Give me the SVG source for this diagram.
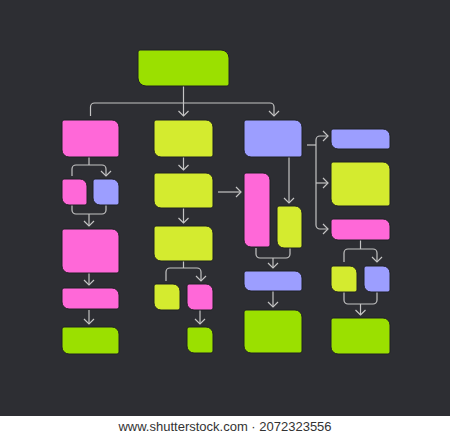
<svg xmlns="http://www.w3.org/2000/svg" width="450" height="436" viewBox="0 0 450 436">
<style>
.n{stroke:#1f2024;stroke-width:1}
.lime{fill:#9be000}
.yel{fill:#d4eb2f}
.pink{fill:#ff68d8}
.blue{fill:#9c9eff}
.c{fill:none;stroke:#c4c4c4;stroke-width:1.2}
.a{marker-end:url(#ah)}
.foot{font-family:"Liberation Sans",Arial,sans-serif;font-size:13px;fill:#333}
</style>
<defs>
<marker id="ah" viewBox="0 0 7 12" refX="6" refY="6" markerWidth="7" markerHeight="12" orient="auto" markerUnits="userSpaceOnUse">
<path d="M1,1 L6,6 L1,11" fill="none" stroke="#c4c4c4" stroke-width="1.2"/>
</marker>
</defs>
<rect x="0" y="0" width="450" height="436" fill="#ffffff"/>
<rect x="0" y="0" width="450" height="416" fill="#2d2e33"/>
<g id="connectors">
<path class="c a" d="M183.5,86 V116"/>
<path class="c a" d="M90.5,116 V107 A4,4 0 0 1 94.5,103 H270 A4,4 0 0 1 274,107 V116"/>
<path class="c" d="M89,157 V165"/>
<path class="c a" d="M72,176 V169 A4,4 0 0 1 76,165 H102 A4,4 0 0 1 106,169 V176"/>
<path class="c" d="M72,205 V210 A4,4 0 0 0 76,214 H102 A4,4 0 0 0 106,210 V205"/>
<path class="c a" d="M89,214 V226"/>
<path class="c a" d="M89,273 V285"/>
<path class="c a" d="M89,310 V324"/>
<path class="c a" d="M183.5,157 V170"/>
<path class="c a" d="M183.5,208 V223"/>
<path class="c" d="M183.5,261 V268"/>
<path class="c a" d="M166,281 V272 A4,4 0 0 1 170,268 H197 A4,4 0 0 1 201,272 V281"/>
<path class="c a" d="M200,310 V324"/>
<path class="c a" d="M218,192 H241"/>
<path class="c a" d="M289,157 V203"/>
<path class="c" d="M256,248 V254 A4,4 0 0 0 260,258 H286 A4,4 0 0 0 290,254 V248"/>
<path class="c a" d="M273,258 V268"/>
<path class="c a" d="M273,291 V307"/>
<path class="c" d="M307,145 H316"/>
<path class="c a" d="M316,183 H328"/>
<path class="c a" d="M316,183 V140 A4,4 0 0 1 320,136 H328"/>
<path class="c a" d="M316,183 V225 A4,4 0 0 0 320,229 H328"/>
<path class="c" d="M360.5,240 V249"/>
<path class="c a" d="M344,262 V253 A4,4 0 0 1 348,249 H373 A4,4 0 0 1 377,253 V262"/>
<path class="c" d="M344,292 V300 A4,4 0 0 0 348,304 H373 A4,4 0 0 0 377,300 V292"/>
<path class="c a" d="M360.5,304 V315"/>
</g>
<g id="top"><path class="n lime" d="M140,50 H221 A8,8 0 0 1 229,58 V84 A2,2 0 0 1 227,86 H146 A8,8 0 0 1 138,78 V52 A2,2 0 0 1 140,50 Z"/></g>
<g id="a"><path class="n pink" d="M64,120 H112 A7,7 0 0 1 119,127 V155 A2,2 0 0 1 117,157 H69 A7,7 0 0 1 62,150 V122 A2,2 0 0 1 64,120 Z"/></g>
<g id="b"><path class="n yel" d="M156,120 H206 A7,7 0 0 1 213,127 V155 A2,2 0 0 1 211,157 H161 A7,7 0 0 1 154,150 V122 A2,2 0 0 1 156,120 Z"/></g>
<g id="c"><path class="n blue" d="M246,120 H295 A7,7 0 0 1 302,127 V155 A2,2 0 0 1 300,157 H251 A7,7 0 0 1 244,150 V122 A2,2 0 0 1 246,120 Z"/></g>
<g id="d"><path class="n blue" d="M333,129 H383 A7,7 0 0 1 390,136 V147 A2,2 0 0 1 388,149 H338 A7,7 0 0 1 331,142 V131 A2,2 0 0 1 333,129 Z"/></g>
<g id="e"><path class="n yel" d="M333,162 H383 A7,7 0 0 1 390,169 V204 A2,2 0 0 1 388,206 H338 A7,7 0 0 1 331,199 V164 A2,2 0 0 1 333,162 Z"/></g>
<g id="f"><path class="n pink" d="M333,219 H383 A7,7 0 0 1 390,226 V238 A2,2 0 0 1 388,240 H338 A7,7 0 0 1 331,233 V221 A2,2 0 0 1 333,219 Z"/></g>
<g id="n1"><path class="n pink" d="M64,179 H80 A7,7 0 0 1 87,186 V203 A2,2 0 0 1 85,205 H69 A7,7 0 0 1 62,198 V181 A2,2 0 0 1 64,179 Z"/></g>
<g id="o1"><path class="n blue" d="M95,179 H112 A7,7 0 0 1 119,186 V203 A2,2 0 0 1 117,205 H100 A7,7 0 0 1 93,198 V181 A2,2 0 0 1 95,179 Z"/></g>
<g id="p1"><path class="n pink" d="M64,229 H112 A7,7 0 0 1 119,236 V271 A2,2 0 0 1 117,273 H69 A7,7 0 0 1 62,266 V231 A2,2 0 0 1 64,229 Z"/></g>
<g id="q1"><path class="n pink" d="M64,288 H112 A7,7 0 0 1 119,295 V307 A2,2 0 0 1 117,309 H69 A7,7 0 0 1 62,302 V290 A2,2 0 0 1 64,288 Z"/></g>
<g id="r1"><path class="n lime" d="M64,327 H112 A7,7 0 0 1 119,334 V352 A2,2 0 0 1 117,354 H69 A7,7 0 0 1 62,347 V329 A2,2 0 0 1 64,327 Z"/></g>
<g id="b2"><path class="n yel" d="M156,173 H206 A7,7 0 0 1 213,180 V206 A2,2 0 0 1 211,208 H161 A7,7 0 0 1 154,201 V175 A2,2 0 0 1 156,173 Z"/></g>
<g id="b3"><path class="n yel" d="M156,226 H206 A7,7 0 0 1 213,233 V259 A2,2 0 0 1 211,261 H161 A7,7 0 0 1 154,254 V228 A2,2 0 0 1 156,226 Z"/></g>
<g id="s1"><path class="n yel" d="M156,284 H173 A7,7 0 0 1 180,291 V308 A2,2 0 0 1 178,310 H161 A7,7 0 0 1 154,303 V286 A2,2 0 0 1 156,284 Z"/></g>
<g id="t1"><path class="n pink" d="M189,284 H206 A7,7 0 0 1 213,291 V308 A2,2 0 0 1 211,310 H194 A7,7 0 0 1 187,303 V286 A2,2 0 0 1 189,284 Z"/></g>
<g id="u1"><path class="n lime" d="M189,327 H206 A7,7 0 0 1 213,334 V351 A2,2 0 0 1 211,353 H194 A7,7 0 0 1 187,346 V329 A2,2 0 0 1 189,327 Z"/></g>
<g id="g1"><path class="n pink" d="M246,173 H263 A7,7 0 0 1 270,180 V245 A2,2 0 0 1 268,247 H251 A7,7 0 0 1 244,240 V175 A2,2 0 0 1 246,173 Z"/></g>
<g id="h1"><path class="n yel" d="M279,206 H295 A7,7 0 0 1 302,213 V246 A2,2 0 0 1 300,248 H284 A7,7 0 0 1 277,241 V208 A2,2 0 0 1 279,206 Z"/></g>
<g id="i1"><path class="n blue" d="M246,271 H295 A7,7 0 0 1 302,278 V289 A2,2 0 0 1 300,291 H251 A7,7 0 0 1 244,284 V273 A2,2 0 0 1 246,271 Z"/></g>
<g id="j1"><path class="n lime" d="M246,310 H295 A7,7 0 0 1 302,317 V351 A2,2 0 0 1 300,353 H251 A7,7 0 0 1 244,346 V312 A2,2 0 0 1 246,310 Z"/></g>
<g id="k1"><path class="n yel" d="M333,266 H350 A7,7 0 0 1 357,273 V290 A2,2 0 0 1 355,292 H338 A7,7 0 0 1 331,285 V268 A2,2 0 0 1 333,266 Z"/></g>
<g id="l1"><path class="n blue" d="M366,266 H383 A7,7 0 0 1 390,273 V290 A2,2 0 0 1 388,292 H371 A7,7 0 0 1 364,285 V268 A2,2 0 0 1 366,266 Z"/></g>
<g id="m1"><path class="n lime" d="M333,318 H383 A7,7 0 0 1 390,325 V352 A2,2 0 0 1 388,354 H338 A7,7 0 0 1 331,347 V320 A2,2 0 0 1 333,318 Z"/></g>
<text class="foot" x="225" y="431" text-anchor="middle">www.shutterstock.com · 2072323556</text>
</svg>
